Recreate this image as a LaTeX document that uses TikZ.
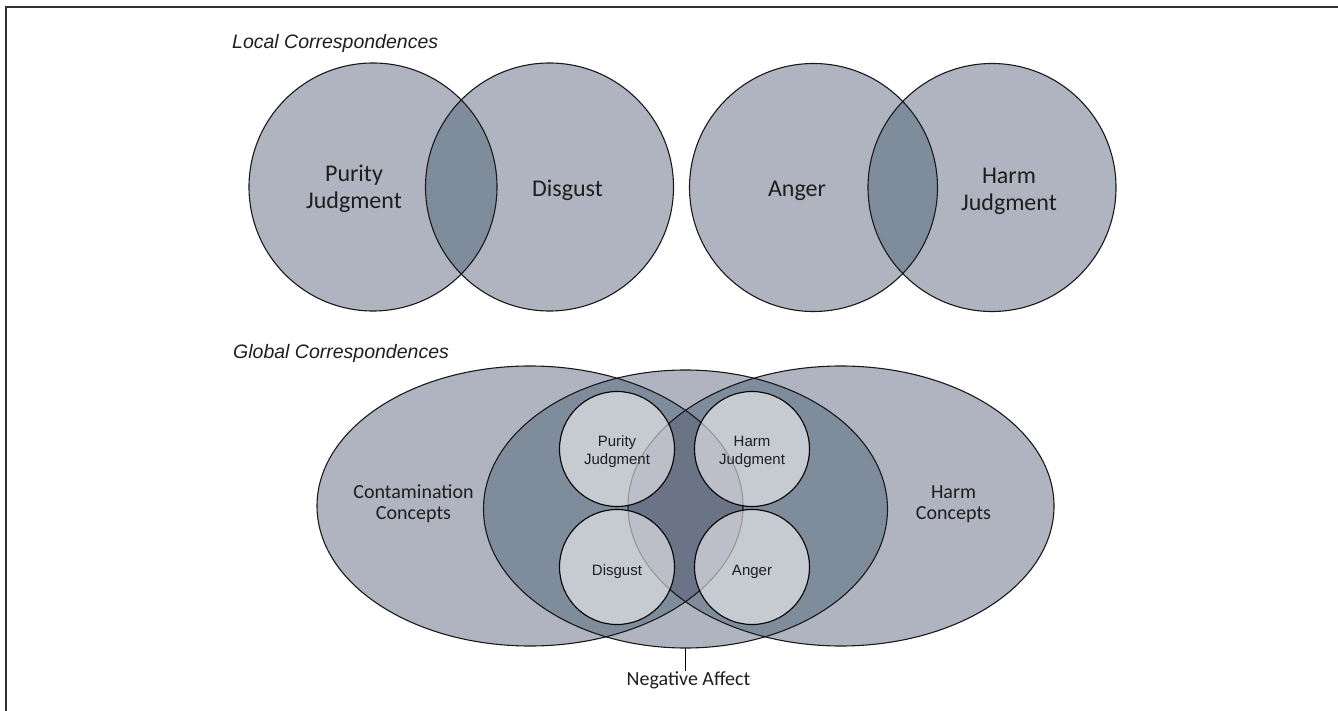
\documentclass[tikz,border=0pt]{standalone}
\usepackage{fontspec}
\newfontfamily\carl{Carlito}
\newfontfamily\arl{Liberation Sans}
\definecolor{basefill}{HTML}{B0B4C1}
\definecolor{dblfill}{HTML}{7F8C9B}
\definecolor{trifill}{HTML}{6B7386}
\definecolor{txt}{HTML}{1E1E1E}
\definecolor{framec}{HTML}{303030}
\tikzset{
  outline/.style={draw=black!90, line width=1.1pt},
  bigtxt/.style={text=txt, inner sep=0pt, anchor=base, font=\carl\fontsize{24}{27}\selectfont},
  midtxt/.style={text=txt, inner sep=0pt, anchor=base, font=\carl\fontsize{20}{21}\selectfont},
  smalltxt/.style={text=txt, inner sep=0pt, anchor=base, font=\arl\fontsize{15}{18}\selectfont},
  titletxt/.style={text=txt, inner sep=0pt, anchor=base west, font=\arl\itshape\fontsize{19.5}{22}\selectfont},
  smallcirc/.style={fill=white, fill opacity=0.55, draw=black, line width=1.1pt},
}
\newcommand{\twoline}[2]{\begin{tabular}[t]{@{}c@{}}#1\\#2\end{tabular}}
\begin{document}
\begin{tikzpicture}[x=1pt,y=-1pt]
\useasboundingbox (0,0) rectangle (1338,711);
% frame
\draw[framec, line width=1.5pt] (6,711) -- (6,7) -- (1338,7);

% ---------- Local correspondences ----------
\node[titletxt] (tlocal) at (232,49) {Local Correspondences};
\fill[basefill] (373,187) circle[radius=124pt];
\fill[basefill] (549.5,187) circle[radius=124pt];
\begin{scope}
  \clip (373,187) circle[radius=124pt];
  \fill[dblfill] (549.5,187) circle[radius=124pt];
\end{scope}
\draw[outline] (373,187) circle[radius=124pt];
\draw[outline] (549.5,187) circle[radius=124pt];

\fill[basefill] (813.5,187.5) circle[radius=124pt];
\fill[basefill] (992,187.5) circle[radius=124pt];
\begin{scope}
  \clip (813.5,187.5) circle[radius=124pt];
  \fill[dblfill] (992,187.5) circle[radius=124pt];
\end{scope}
\draw[outline] (813.5,187.5) circle[radius=124pt];
\draw[outline] (992,187.5) circle[radius=124pt];

\node[bigtxt] (lpurity) at (354,182) {\twoline{Purity}{Judgment}};
\node[bigtxt] (ldisgust) at (567.5,197) {Disgust};
\node[bigtxt] (langer) at (797,197) {Anger};
\node[bigtxt] (lharm) at (1009,184) {\twoline{Harm}{Judgment}};

% ---------- Global correspondences ----------
\node[titletxt] (tglobal) at (233,358) {Global Correspondences};
\fill[basefill] (530,506) ellipse[x radius=213pt, y radius=140pt];
\fill[basefill] (841,506) ellipse[x radius=213pt, y radius=140pt];
\fill[basefill] (685.5,509) ellipse[x radius=202pt, y radius=139pt];
\begin{scope}
  \clip (685.5,509) ellipse[x radius=202pt, y radius=139pt];
  \fill[dblfill] (530,506) ellipse[x radius=213pt, y radius=140pt];
  \fill[dblfill] (841,506) ellipse[x radius=213pt, y radius=140pt];
  \clip (530,506) ellipse[x radius=213pt, y radius=140pt];
  \fill[trifill] (841,506) ellipse[x radius=213pt, y radius=140pt];
\end{scope}
\draw[outline] (530,506) ellipse[x radius=213pt, y radius=140pt];
\draw[outline] (841,506) ellipse[x radius=213pt, y radius=140pt];
\draw[outline] (685.5,509) ellipse[x radius=202pt, y radius=139pt];

\draw[smallcirc] (617,449) circle[radius=57.5pt];
\draw[smallcirc] (752,449) circle[radius=57.5pt];
\draw[smallcirc] (617,567) circle[radius=57.5pt];
\draw[smallcirc] (752,567) circle[radius=57.5pt];

\node[smalltxt] (gpurity) at (617,446) {\twoline{Purity}{Judgment}};
\node[smalltxt] (gharm) at (752,446) {\twoline{Harm}{Judgment}};
\node[smalltxt] (gdisgust) at (617,575) {Disgust};
\node[smalltxt] (ganger) at (752,575) {Anger};

\node[midtxt] (gcont) at (413.5,498) {\twoline{Contamination}{Concepts}};
\node[midtxt] (gharmc) at (953.5,498) {\twoline{Harm}{Concepts}};

\coordinate (nabottom) at (685.5,648);
\node[midtxt] (negaff) at (688.5,685) {Negative Affect};
\draw[black, line width=1pt] (nabottom) -- (nabottom |- negaff.north);
\end{tikzpicture}
\end{document}
